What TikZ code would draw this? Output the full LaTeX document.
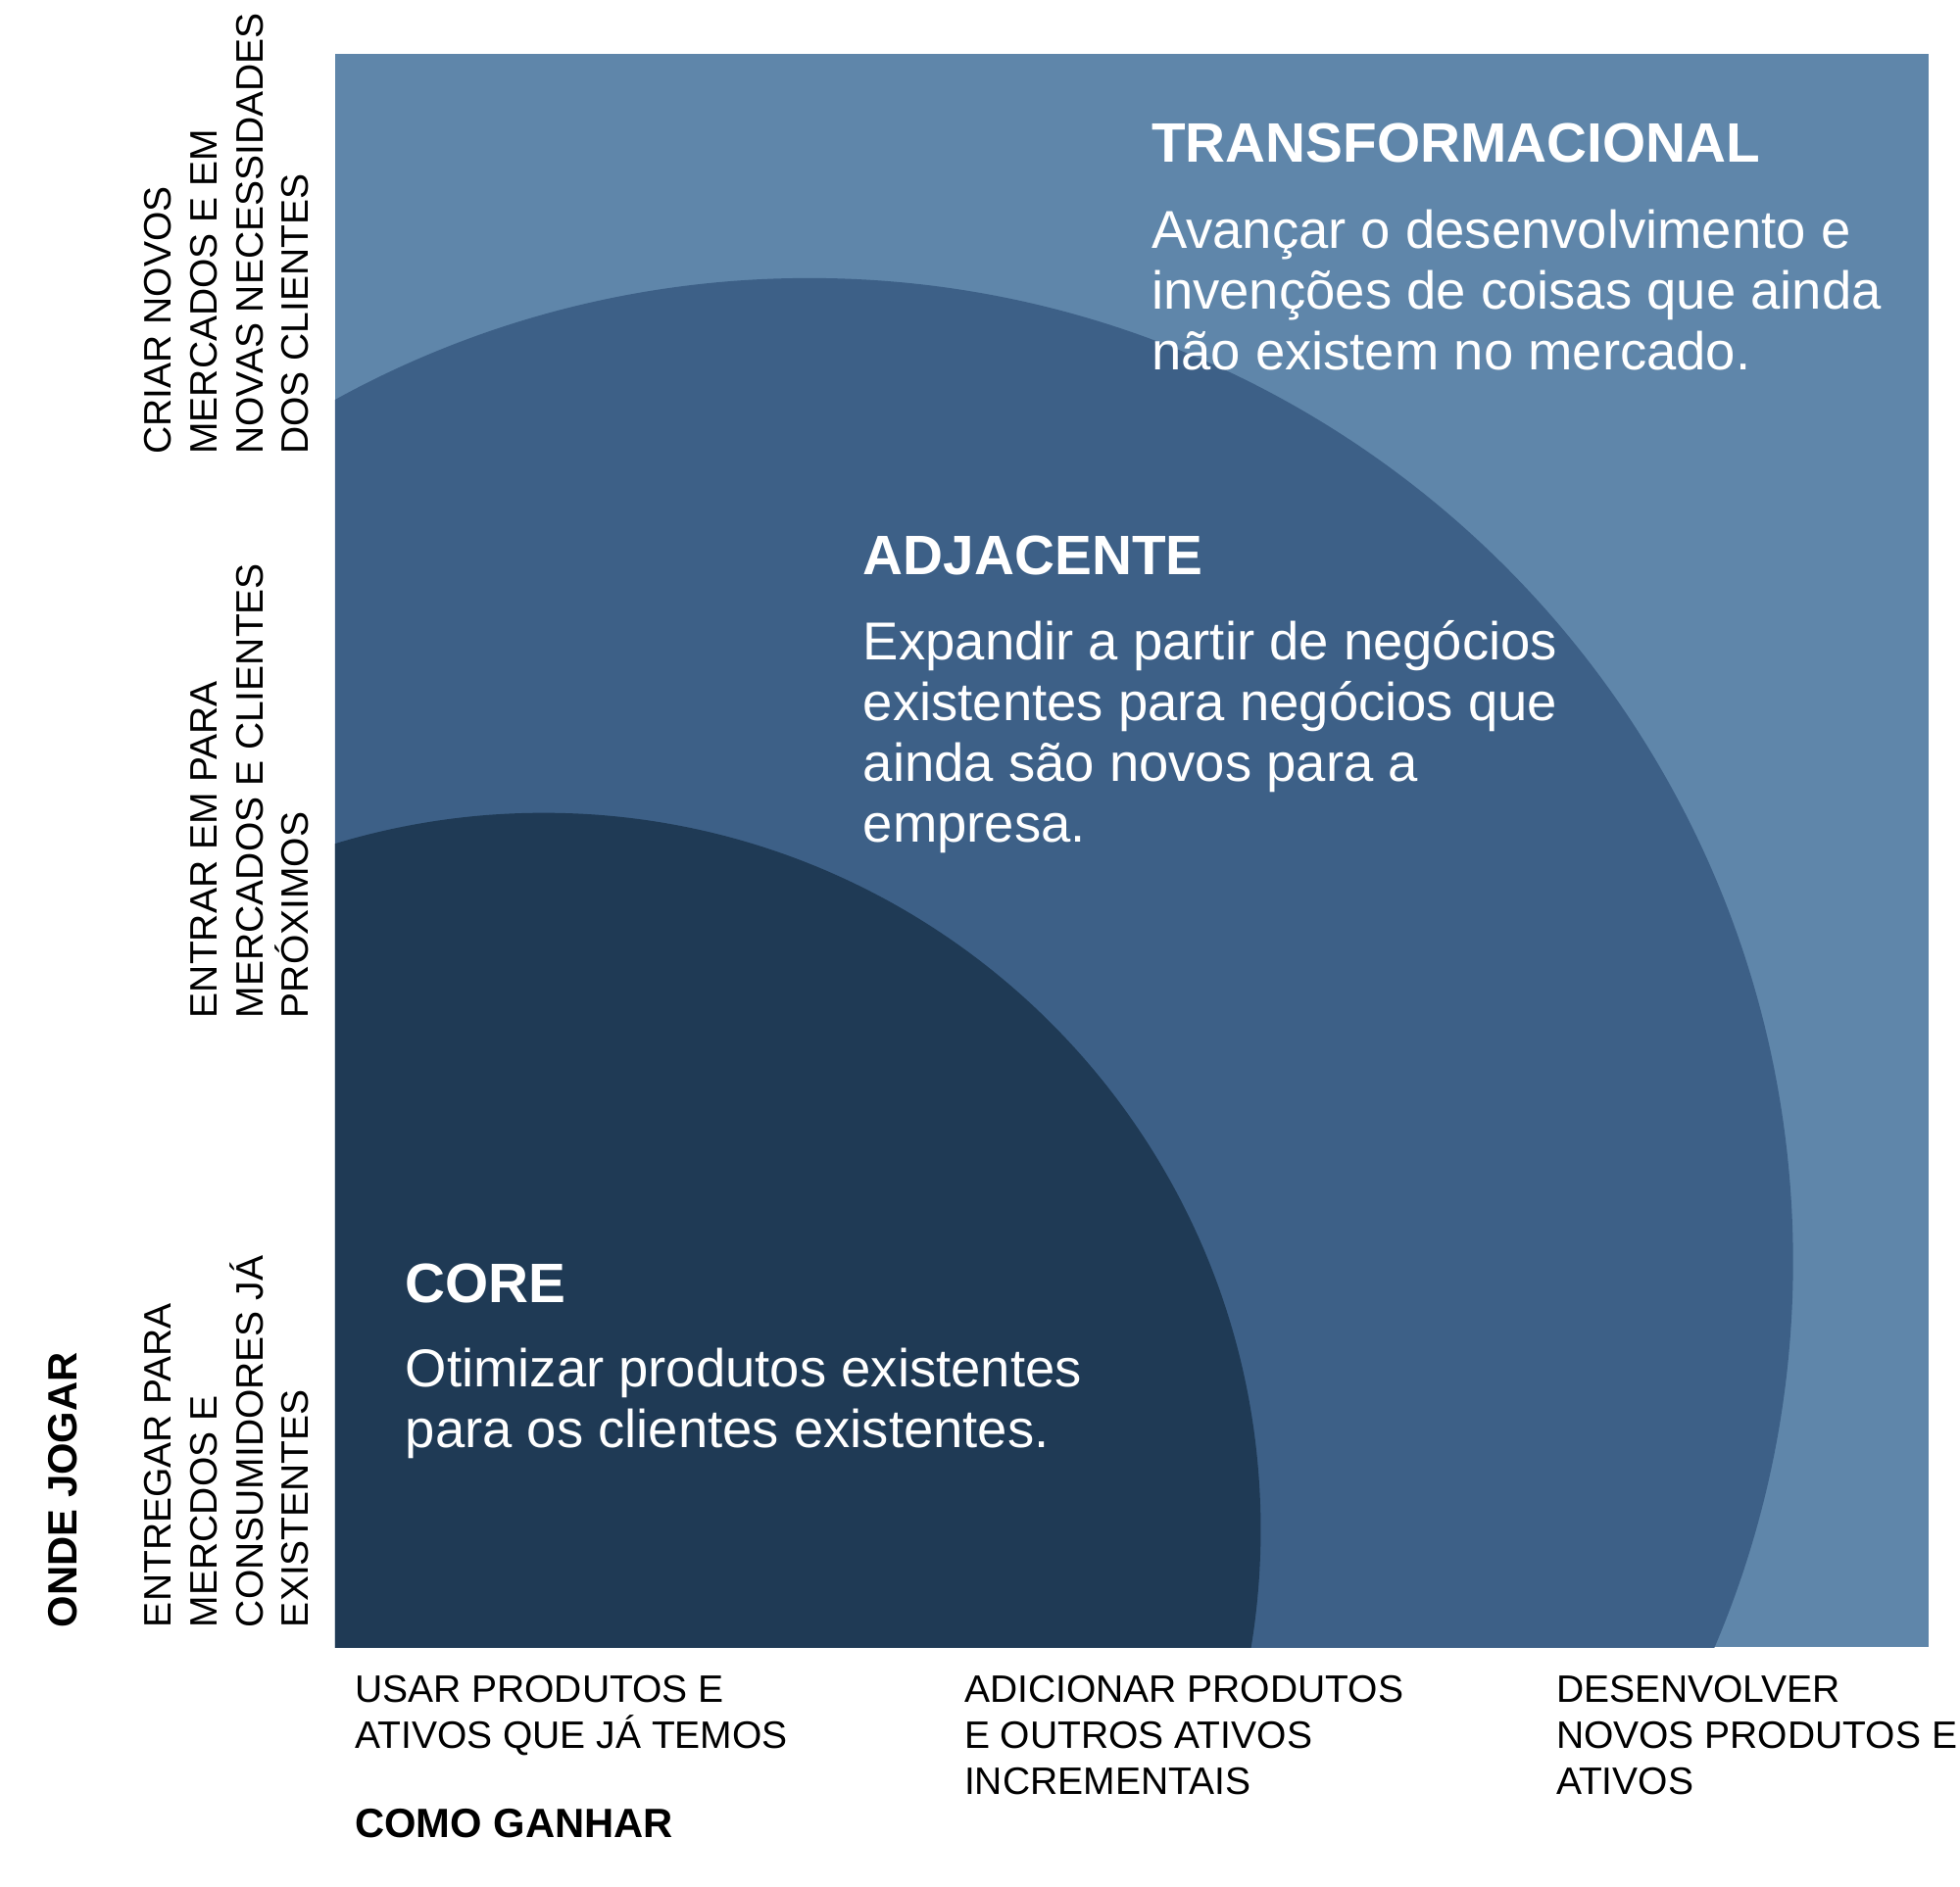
\documentclass[tikz,border=0pt]{standalone}
\usepackage{fontspec}
\setmainfont{Liberation Sans}
\usetikzlibrary{positioning}
\definecolor{outerblue}{HTML}{5F86AA}
\definecolor{midblue}{HTML}{3D6087}
\definecolor{coreblue}{HTML}{1F3A55}
\tikzset{
  zonetitle/.style={anchor=north west,text=white,font=\fontsize{12.5}{15}\selectfont\bfseries,inner sep=0pt},
  zonetext/.style={anchor=north west,text=white,align=left,font=\fontsize{12}{13.7}\selectfont,inner sep=0pt},
  axislabel/.style={align=left,font=\fontsize{8.6}{10.3}\selectfont,inner sep=0pt},
  axistitle/.style={font=\fontsize{9.2}{11}\selectfont\bfseries,inner sep=0pt},
}
\begin{document}
\begin{tikzpicture}[x=0.01cm,y=-0.01cm]
  \useasboundingbox (0,0) rectangle (1550,1492);
  \fill[outerblue] (265,43) rectangle (1525,1303);
  \begin{scope}
    \clip (265,43) rectangle (1525,1303);
    \fill[midblue] (640,998) circle (778);
    \fill[coreblue] (430,1210) circle (567);
  \end{scope}
  % zones
  \node[zonetitle] (transT) at (910,97) {TRANSFORMACIONAL};
  \node[zonetext] (transD) at (910,165) {Avançar o desenvolvimento e\\invenções de coisas que ainda\\não existem no mercado.};
  \node[zonetitle] (adjT) at (682,423) {ADJACENTE};
  \node[zonetext] (adjD) at (682,490) {Expandir a partir de negócios\\existentes para negócios que\\ainda são novos para a\\empresa.};
  \node[zonetitle] (coreT) at (320,999) {CORE};
  \node[zonetext] (coreD) at (320,1066) {Otimizar produtos existentes\\para os clientes existentes.};
  % vertical axis
  \node[axislabel,rotate=90,anchor=south west] (criar) at (245,360) {CRIAR NOVOS\\MERCADOS E  EM\\NOVAS NECESSIDADES\\DOS CLIENTES};
  \node[axislabel,rotate=90,anchor=south west] (entrar) at (245,806) {ENTRAR EM PARA\\MERCADOS E CLIENTES\\PRÓXIMOS};
  \node[axislabel,rotate=90,anchor=south west] (entregar) at (245,1288) {ENTREGAR  PARA\\MERCDOS E\\CONSUMIDORES JÁ\\EXISTENTES};
  \node[axistitle,rotate=90,anchor=south west] (onde) at (62,1288) {ONDE JOGAR};
  % horizontal axis
  \node[axislabel,anchor=north west] (usar) at (280,1325) {USAR PRODUTOS E\\ATIVOS QUE JÁ TEMOS};
  \node[axislabel,anchor=north west] (adicionar) at (762,1325) {ADICIONAR PRODUTOS\\E OUTROS ATIVOS\\INCREMENTAIS};
  \node[axislabel,anchor=north west] (desenv) at (1230,1325) {DESENVOLVER\\NOVOS PRODUTOS E\\ATIVOS};
  \node[axistitle,anchor=north west] (como) at (280,1430) {COMO GANHAR};
\end{tikzpicture}
\end{document}
